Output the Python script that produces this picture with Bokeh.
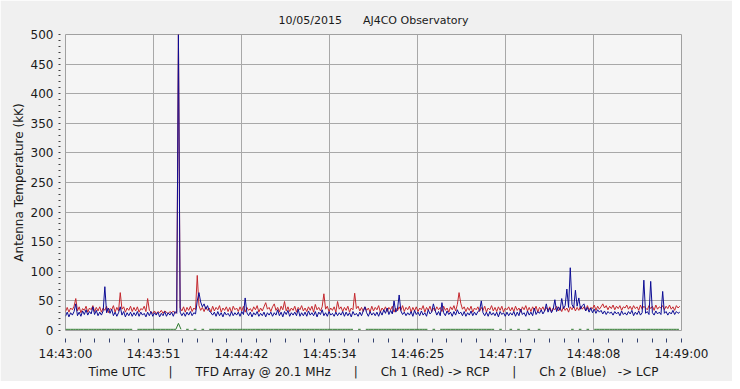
import numpy as np
from bokeh.plotting import figure
from bokeh.models import FixedTicker, Title, Range1d, ColumnDataSource
from bokeh.embed import file_html
from bokeh.resources import INLINE

N = float("nan")
GAP = "\u00a0\u00a0 \u00a0\u00a0\u00a0"
TGAP = "\u00a0\u00a0 \u00a0\u00a0\u00a0"

title_text = "10/05/2015" + TGAP + "AJ4CO Observatory"
x_label = ("Time UTC" + GAP + "|" + GAP + "TFD Array @ 20.1 MHz" + GAP + "|" + GAP
           + "Ch 1 (Red) -> RCP" + GAP + "|" + GAP + "Ch 2 (Blue)\u00a0\u00a0 -> LCP")
y_label = "Antenna Temperature (kK)"
time_labels = ["14:43:00", "14:43:51", "14:44:42", "14:45:34",
               "14:46:25", "14:47:17", "14:48:08", "14:49:00"]
y_tick_values = [0, 50, 100, 150, 200, 250, 300, 350, 400, 450, 500]
span_seconds = 360
rb_step = 1.0      # seconds per sample, channels 1 and 2
g_step = 1.5       # seconds per sample, ground/reference trace

ch1_red = [
    32, 39, 31, 38, 35, 41, 54, 33, 40, 30, 37, 34, 41, 31, 38, 35, 42, 32, 39, 33,
    40, 31, 38, 34, 41, 30, 37, 35, 42, 31, 39, 33, 64, 36, 40, 31, 38, 34, 41, 32,
    39, 33, 40, 31, 37, 35, 41, 32, 54, 34, 31, 29, 33, 28, 32, 30, 34, 29, 33, 31,
    28, 32, 30, 33, 29, 31, 500, 38, 33, 40, 31, 39, 34, 41, 32, 38, 35, 93, 42, 34,
    39, 32, 40, 34, 38, 31, 41, 33, 39, 35, 42, 31, 38, 34, 40, 32, 39, 30, 41, 35,
    38, 32, 40, 33, 41, 31, 39, 34, 37, 32, 40, 35, 42, 31, 38, 33, 40, 47, 36, 39,
    32, 40, 45, 34, 39, 31, 41, 35, 49, 33, 40, 32, 38, 34, 41, 31, 39, 35, 42, 33,
    38, 32, 40, 34, 41, 31, 44, 35, 39, 33, 40, 62, 36, 41, 32, 38, 34, 40, 31, 49,
    36, 40, 32, 39, 34, 41, 31, 38, 35, 63, 37, 41, 33, 39, 32, 40, 34, 38, 31, 41,
    33, 39, 35, 42, 31, 38, 34, 40, 32, 39, 35, 41, 31, 38, 33, 40, 34, 42, 32, 39,
    35, 41, 31, 39, 33, 40, 32, 38, 35, 42, 31, 39, 34, 41, 32, 38, 33, 40, 35, 39,
    32, 41, 34, 38, 31, 40, 35, 42, 33, 44, 64, 46, 36, 40, 32, 39, 34, 41, 31, 38,
    35, 40, 32, 39, 34, 41, 31, 38, 35, 42, 33, 39, 32, 40, 34, 41, 31, 38, 35, 40,
    33, 39, 32, 41, 34, 38, 31, 40, 35, 42, 33, 39, 32, 40, 34, 41, 31, 39, 35, 40,
    33, 39, 34, 40, 32, 38, 35, 41, 33, 39, 32, 40, 34, 38, 31, 40, 35, 41, 33, 39,
    34, 41, 36, 40, 33, 42, 35, 39, 37, 43, 34, 41, 36, 40, 45, 38, 42, 35, 41, 37,
    43, 35, 41, 37, 42, 34, 40, 38, 43, 36, 41, 35, 42, 37, 40, 34, 43, 36, 41, 38,
    35, 42, 37, 41, 34, 43, 36, 40, 38, 42, 35, 41, 37, 43, 36, 40, 34, 42, 38, 41,
]

ch2_blue = [
    24, 31, 23, 30, 26, 32, 45, 25, 31, 24, 33, 27, 35, 26, 32, 28, 40, 27, 34, 25,
    31, 26, 33, 74, 30, 38, 29, 36, 25, 31, 24, 30, 40, 26, 32, 23, 30, 25, 31, 24,
    30, 25, 32, 24, 31, 26, 29, 23, 31, 25, 32, 24, 30, 26, 31, 23, 29, 25, 32, 24,
    30, 26, 31, 24, 32, 29, 500, 31, 25, 30, 24, 31, 26, 32, 25, 30, 28, 50, 64, 48,
    40, 45, 36, 42, 33, 30, 26, 31, 24, 32, 25, 30, 23, 31, 26, 29, 24, 32, 25, 30,
    26, 31, 24, 32, 27, 55, 30, 25, 31, 23, 30, 26, 32, 24, 29, 25, 31, 23, 30, 26,
    31, 24, 30, 26, 35, 25, 31, 23, 32, 27, 34, 24, 30, 26, 31, 25, 36, 24, 30, 25,
    31, 24, 33, 26, 30, 25, 32, 23, 31, 27, 35, 25, 30, 24, 32, 26, 29, 24, 31, 25,
    30, 26, 32, 24, 31, 25, 30, 23, 32, 26, 29, 24, 31, 25, 33, 40, 30, 24, 32, 26,
    30, 25, 31, 24, 32, 26, 35, 29, 38, 27, 34, 28, 50, 31, 36, 60, 33, 27, 31, 25,
    30, 26, 32, 24, 34, 27, 31, 25, 33, 26, 30, 24, 35, 28, 31, 45, 34, 26, 32, 25,
    47, 30, 25, 33, 27, 31, 24, 32, 26, 35, 28, 31, 25, 32, 24, 30, 26, 33, 25, 31,
    26, 32, 34, 50, 30, 25, 31, 24, 32, 26, 30, 25, 31, 23, 32, 27, 30, 24, 31, 25,
    30, 26, 32, 24, 31, 25, 36, 27, 30, 24, 33, 26, 31, 25, 38, 27, 32, 29, 35, 28,
    33, 45, 31, 38, 30, 36, 52, 32, 40, 34, 54, 37, 42, 70, 39, 106, 44, 38, 68, 41,
    55, 36, 42, 45, 33, 39, 31, 38, 30, 36, 29, 35, 31, 34, 28, 33, 27, 32, 29, 31,
    26, 32, 28, 31, 25, 33, 27, 30, 26, 32, 28, 34, 25, 31, 27, 33, 26, 30, 85, 29,
    32, 27, 83, 30, 26, 33, 28, 31, 27, 66, 29, 32, 26, 31, 28, 34, 27, 32, 29, 31,
]

ch3_green = [
    2, 2, 2, 2, 2, 2, 2, 2, 2, 2, 2, 2, 2, 2, 2, 2, 2, 2, 2, 2,
    2, 2, 2, 2, 2, 2, 2, N, 2, 2, 2, 2, 2, 2, 2, 2, 2, 2, 2, 2,
    2, 2, 2, 2, 12, 2, N, 2, 2, N, 2, 2, N, 2, 2, N, 2, 2, 2, 2,
    2, 2, 2, 2, 2, 2, 2, 2, 2, 2, 2, 2, 2, 2, 2, 2, 2, 2, 2, 2,
    2, 2, 2, 2, 2, 2, 2, 2, 2, 2, 2, 2, 2, 2, 2, 2, 2, 2, 2, 2,
    2, 2, 2, 2, 2, 2, 2, 2, 2, 2, 2, 2, 2, N, 2, 2, N, 2, 2, 2,
    2, 2, 2, 2, 2, 2, 2, 2, 2, 2, 2, 2, 2, 2, 2, 2, 2, 2, 2, 2,
    2, 2, N, 2, 2, N, 2, 2, 2, 2, 2, 2, 2, 2, 2, 2, 2, 2, 2, 2,
    2, 2, 2, 2, 2, 2, 2, 2, N, 2, 2, N, N, 2, 2, N, 2, 2, N, N,
    2, 2, N, N, 2, 2, N, N, N, N, N, N, N, N, N, N, N, 2, 2, N,
    2, 2, N, 2, 2, N, 2, 2, 2, 2, 2, 2, 2, 2, 2, 2, 2, 2, 2, 2,
    2, 2, 2, 2, 2, 2, 2, 2, 2, 2, 2, 2, 2, 2, 2, 2, 2, 2, 2, 2,
]

red_src = ColumnDataSource(dict(t=np.arange(len(ch1_red)) * rb_step,
                                v=np.array(ch1_red, dtype=float)))
blue_src = ColumnDataSource(dict(t=np.arange(len(ch2_blue)) * rb_step,
                                 v=np.array(ch2_blue, dtype=float)))
green_src = ColumnDataSource(dict(t=np.arange(len(ch3_green)) * g_step,
                                  v=np.array(ch3_green, dtype=float)))

FONT = "DejaVu Sans"
TXT = "#1a1a1a"

p = figure(width=732, height=381, output_backend="svg", toolbar_location=None,
           x_range=Range1d(0, span_seconds), y_range=Range1d(0, 500),
           min_border_left=65, min_border_right=51, min_border_top=34, min_border_bottom=51)

p.background_fill_color = "#f5f5f5"
p.border_fill_color = "#f0f0f0"
p.outline_line_color = "#a0a0a0"
p.outline_line_width = 1

title = Title(text=title_text, align="center", text_font=FONT, text_font_size="11px",
              text_font_style="normal", text_color=TXT, standoff=16)
p.add_layout(title, "above")

# x ticks: labelled ticks at the grid lines, unlabelled ticks in between
n_int = len(time_labels) - 1
n_sub = 6
x_major = [span_seconds * k / n_int for k in range(len(time_labels))]
x_all = [span_seconds * k / (n_int * n_sub) for k in range(n_int * n_sub + 1)]
x_overrides = {}
for k, v in enumerate(x_all):
    x_overrides[v] = time_labels[k // n_sub] if k % n_sub == 0 else ""
p.xaxis.ticker = FixedTicker(ticks=x_all, minor_ticks=[])
p.xaxis.major_label_overrides = x_overrides
p.xgrid.ticker = FixedTicker(ticks=x_major)

y_minor = [v for v in range(0, 501, 10) if v % 50 != 0]
p.yaxis.ticker = FixedTicker(ticks=y_tick_values, minor_ticks=y_minor)
p.ygrid.ticker = FixedTicker(ticks=y_tick_values)

for g in (p.xgrid, p.ygrid):
    g.grid_line_color = "#a8a8a8"
    g.grid_line_width = 1

for ax in (p.xaxis, p.yaxis):
    ax.axis_line_color = None
    ax.major_label_text_font = FONT
    ax.major_label_text_font_size = "12px"
    ax.major_label_text_color = TXT
    ax.axis_label_text_font = FONT
    ax.axis_label_text_font_size = "12px"
    ax.axis_label_text_font_style = "normal"
    ax.axis_label_text_color = TXT

# ticks are stroked from the outer end inwards; a dash pattern leaves a gap next to the frame
p.xaxis.axis_label = x_label
p.xaxis.major_tick_in = 0
p.xaxis.major_tick_out = 12
p.xaxis.major_tick_line_color = "#34426e"
p.xaxis.major_tick_line_width = 1
p.xaxis.major_tick_line_dash = "4 8"
p.xaxis.minor_tick_line_color = None
p.xaxis.major_label_standoff = 4
p.xaxis.axis_label_standoff = 1

p.yaxis.axis_label = y_label
p.yaxis.major_tick_in = 0
p.yaxis.major_tick_out = 7
p.yaxis.major_tick_line_color = "#404040"
p.yaxis.major_tick_line_dash = "2 5"
p.yaxis.minor_tick_in = 0
p.yaxis.minor_tick_out = 7
p.yaxis.minor_tick_line_color = "#404040"
p.yaxis.minor_tick_line_dash = "2 5"
p.yaxis.major_label_standoff = 5
p.yaxis.axis_label_standoff = 2

p.line("t", "v", source=green_src, line_color="#2e7a2e", line_width=1)
p.line("t", "v", source=red_src, line_color="#c4282e", line_width=1)
p.line("t", "v", source=blue_src, line_color="#0c0c94", line_width=1)

open("out.html", "w").write(file_html(p, INLINE))
